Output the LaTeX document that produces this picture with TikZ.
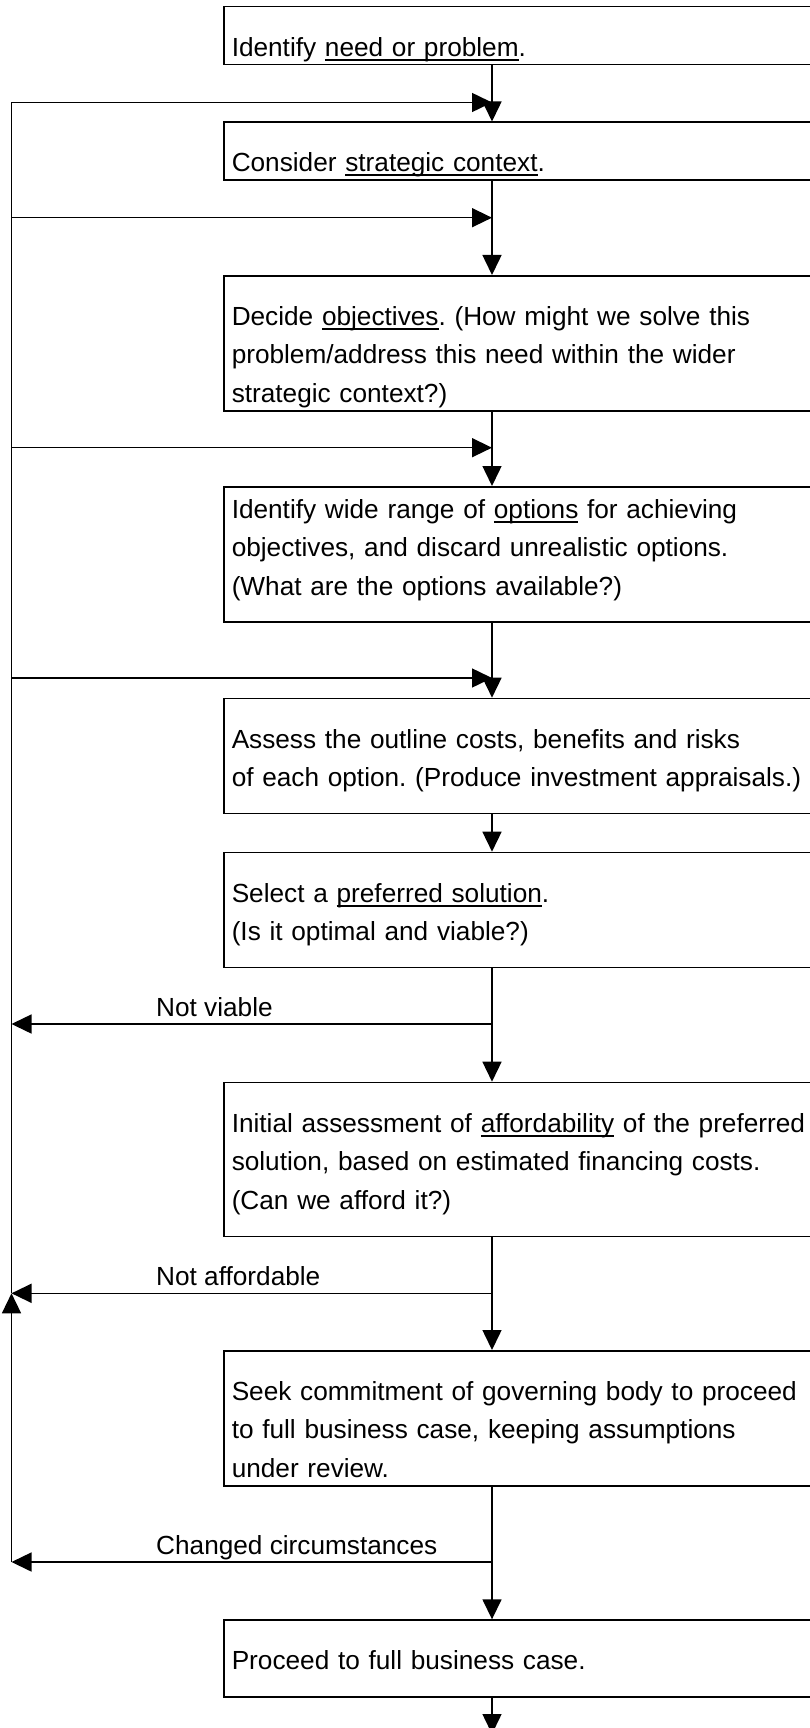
\documentclass[tikz,border=0pt]{standalone}
\usepackage{fontspec}
\setmainfont{Liberation Sans}
\usetikzlibrary{arrows.meta, calc}
\frenchspacing

% 밑줄 (기준선 아래 고정 위치)
\newcommand{\uword}[1]{\setbox0=\hbox{#1}\rlap{\rule[-4.5pt]{\wd0}{2pt}}\box0\relax}

\begin{document}
\begin{tikzpicture}[
    x=1pt, y=-1pt,
    font=\fontsize{26.2}{38.5}\selectfont,
    % --- 스타일 정의 ---
    % 1. 박스 스타일 (글자 위치는 text height / text depth 로 맞춤)
    stepbox/.style={draw, line width=1.5pt, rectangle, anchor=north west, inner xsep=8pt, inner ysep=0pt,
        text width=600pt, align=left, text height=49.6pt, text depth=#1},
    % 2. 화살표 스타일
    flow/.style={line width=1.5pt, -{Triangle[length=20pt, width=19pt]}}, % 기본 화살표
    plain/.style={line width=1.5pt}, % 화살표 없는 선
    % 3. 라벨 스타일
    lbl/.style={anchor=base west, inner sep=0pt}
]
\useasboundingbox (0,0) rectangle (809,1728);

% === 1단계: 박스 배치 ===
\node[stepbox=8.1pt] (b1) at (223,6) {Identify \uword{need or problem}.};
\node[stepbox=8.2pt] (b2) at (223,121.5) {Consider \uword{strategic context}.};
\node[stepbox=85.4pt] (b3) at (223,275) {Decide \uword{objectives}. (How might we solve this\\problem/address this need within the wider\\strategic context?)};
\node[stepbox=103.6pt, text height=31.4pt] (b4) at (223,486) {Identify wide range of \uword{options} for achieving\\objectives, and discard unrealistic options.\\(What are the options available?)};
\node[stepbox=65.4pt] (b5) at (223,697.7) {Assess the outline costs, benefits and risks\\of each option. (Produce investment appraisals.)};
\node[stepbox=65.4pt] (b6) at (223,851.7) {Select a \uword{preferred solution}.\\(Is it optimal and viable?)};
\node[stepbox=104.4pt] (b7) at (223,1081.7) {Initial assessment of \uword{affordability} of the preferred\\solution, based on estimated financing costs.\\(Can we afford it?)};
\node[stepbox=85.7pt] (b8) at (223,1350) {Seek commitment of governing body to proceed\\to full business case, keeping assumptions\\under review.};
\node[stepbox=27.4pt] (b9) at (223,1619.3) {Proceed to full business case.};

% 세로 중심선과 왼쪽 되돌림선의 x 위치
\coordinate (spine) at (492,0);
\coordinate (loop) at (11.5,0);

% === 2단계: 아래로 가는 화살표 ===
\draw[flow] (b1.south -| spine) -- (b2.north -| spine);
\draw[flow] (b2.south -| spine) -- (b3.north -| spine);
\draw[flow] (b3.south -| spine) -- (b4.north -| spine);
\draw[flow] (b4.south -| spine) -- (b5.north -| spine);
\draw[flow] (b5.south -| spine) -- (b6.north -| spine);
\draw[flow] (b6.south -| spine) -- (b7.north -| spine);
\draw[flow] (b7.south -| spine) -- (b8.north -| spine);
\draw[flow] (b8.south -| spine) -- (b9.north -| spine);
\coordinate (out) at (492,1734);
\draw[flow] (b9.south -| spine) -- (out);

% === 3단계: 되돌림 (왼쪽 선) ===
\coordinate (fb1) at (11.5,102.5);
\coordinate (fb2) at (11.5,217.7);
\coordinate (fb3) at (11.5,447.7);
\coordinate (fb4) at (11.5,678);
\draw[flow] (fb1) -- (fb1 -| spine);
\draw[flow] (fb2) -- (fb2 -| spine);
\draw[flow] (fb3) -- (fb3 -| spine);
\draw[flow] (fb4) -- (fb4 -| spine);

% 오른쪽에서 왼쪽으로 (조건 라벨 포함)
\coordinate (nv) at (492,1024);
\coordinate (na) at (492,1293.3);
\coordinate (cc) at (492,1562);
\draw[flow] (nv) -- (nv -| loop);
\node[lbl] at ($(nv -| loop)+(144.5,-8)$) {Not viable};
\draw[flow] (na) -- (na -| loop);
\node[lbl] at ($(na -| loop)+(144.5,-8)$) {Not affordable};
\draw[flow] (cc) -- (cc -| loop);
\node[lbl] at ($(cc -| loop)+(144.5,-8)$) {Changed circumstances};

% 왼쪽 세로선: 아래 부분은 위로 향하는 화살표
\draw[plain] (fb1) -- (na -| loop);
\draw[flow] (cc -| loop) -- (na -| loop);

\end{tikzpicture}
\end{document}
